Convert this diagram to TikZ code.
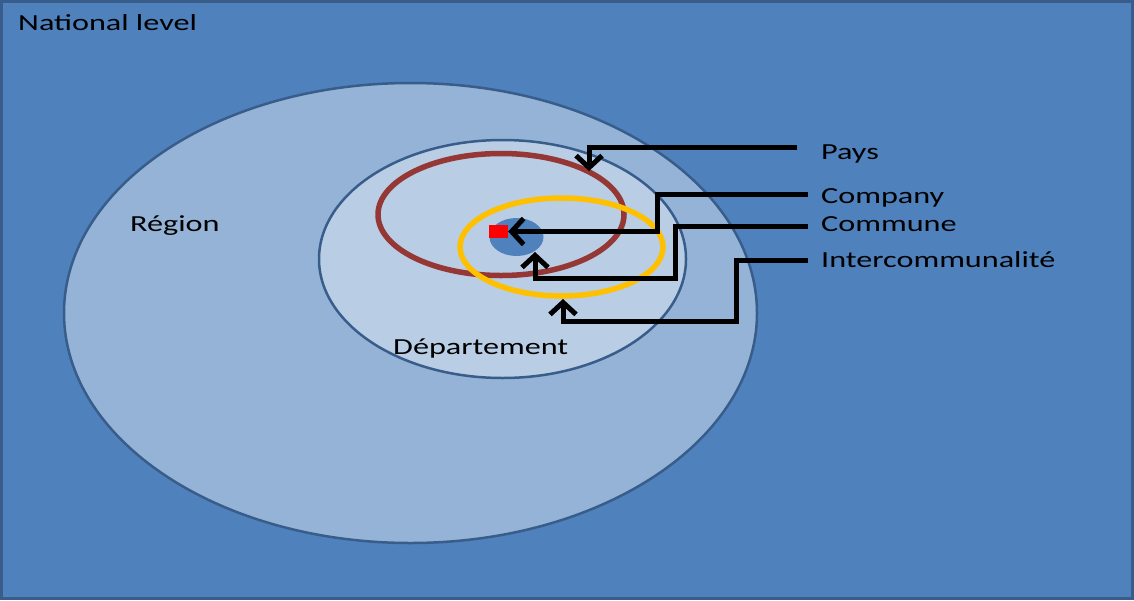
\documentclass[tikz,border=0pt]{standalone}
\usepackage{fontspec}
\setmainfont{Carlito}[FakeStretch=1.4]
\usetikzlibrary{arrows.meta}
\definecolor{natblue}{HTML}{4F81BD}
\definecolor{edgeblue}{HTML}{385D8A}
\definecolor{regfill}{HTML}{95B3D7}
\definecolor{depfill}{HTML}{B9CDE5}
\definecolor{paysred}{HTML}{953735}
\definecolor{interorange}{HTML}{FFC000}
\tikzset{
  lbl/.style={anchor=base west, inner sep=0pt, font=\fontsize{23}{27}\selectfont, text=black},
  zone/.style={draw=edgeblue, line width=2.5pt},
  ring/.style={line width=5.5pt},
  conn/.style={draw=black, line width=5pt, line join=miter, -{Straight Barb[length=12pt,width=26pt,line width=5pt]}}
}
\begin{document}
\begin{tikzpicture}[x=1pt,y=-1pt]
\useasboundingbox (0,0) rectangle (1134,600);
\fill[natblue] (0,0) rectangle (1134,600);
\draw[edgeblue, line width=3pt] (1.5,1.5) rectangle (1132.5,598.5);
% zones
\draw[zone, fill=regfill] (410.5,313) ellipse [x radius=346.5, y radius=230];
\draw[zone, fill=depfill] (502.5,259) ellipse [x radius=183.5, y radius=119];
\draw[ring, draw=paysred] (501,214.5) ellipse [x radius=123, y radius=61];
\draw[ring, draw=interorange] (561.5,247) ellipse [x radius=101.5, y radius=49];
\fill[natblue] (516.5,237) ellipse [x radius=27, y radius=19];
\node[fill=red, minimum width=19pt, minimum height=13pt, inner sep=0pt] (company) at (498.5,231.5) {};
% labels
\node[lbl] (national) at (18,30) {National level};
\node[lbl] (region) at (130,231) {Région};
\node[lbl] (dep) at (393,354) {Département};
\node[lbl] (pays) at (821,159) {Pays};
\node[lbl] (comp) at (821,203) {Company};
\node[lbl] (comm) at (821,231) {Commune};
\node[lbl] (inter) at (821,267) {Intercommunalité};
% connector ends
\coordinate (ps) at (797,147);
\coordinate (pt) at (589,171);
\coordinate (cs) at (808,194);
\coordinate (ms) at (808,226);
\coordinate (mt) at (535,252);
\coordinate (is) at (808,260);
\coordinate (it) at (563,299);
\draw[conn] (ps) -| (pt);
\draw[conn] (cs) -- (657,194) |- (company.east);
\draw[conn] (ms) -- (675,226) |- (535,278) -- (mt);
\draw[conn] (is) -- (736,260) |- (563,321) -- (it);
\end{tikzpicture}
\end{document}
